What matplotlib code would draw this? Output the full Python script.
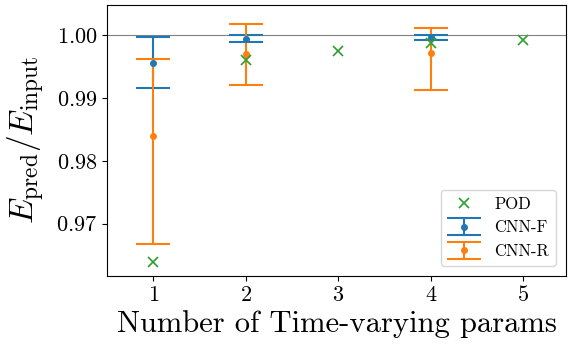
import numpy as np
import matplotlib
matplotlib.use("Agg")
import matplotlib.pyplot as plt

plt.rcParams["font.family"] = "serif"
plt.rcParams["font.serif"] = ["cmr10"]
plt.rcParams["mathtext.fontset"] = "cm"
plt.rcParams["axes.formatter.use_mathtext"] = True

# POD
pod_x = [1, 2, 3, 4, 5]
pod_y = [0.96395, 0.99616, 0.99747, 0.99880, 0.99927]

# CNN-F (mean, lower cap, upper cap)
cnnf_x = [1, 2, 4]
cnnf_y = [0.99564, 0.99937, 0.99968]
cnnf_lo = [0.99169, 0.99900, 0.99932]
cnnf_hi = [0.99975, 1.00010, 1.00006]

# CNN-R
cnnr_x = [1, 2, 4]
cnnr_y = [0.98404, 0.99711, 0.99722]
cnnr_lo = [0.96668, 0.99206, 0.99127]
cnnr_hi = [0.99632, 1.00185, 1.00126]

fig, ax = plt.subplots(figsize=(5.72, 3.45), dpi=100)
fig.subplots_adjust(left=0.1876, right=0.989, bottom=0.2009, top=0.9864)

ax.axhline(1.0, color="gray", lw=0.8)

def err(y, lo, hi):
    y = np.array(y)
    return [y - np.array(lo), np.array(hi) - y]

ax.errorbar(cnnf_x, cnnf_y, yerr=err(cnnf_y, cnnf_lo, cnnf_hi), fmt="o", ms=4,
            color="C0", capsize=12, elinewidth=1.5, capthick=1.5, label="CNN-F")
ax.errorbar(cnnr_x, cnnr_y, yerr=err(cnnr_y, cnnr_lo, cnnr_hi), fmt="o", ms=4,
            color="C1", capsize=12, elinewidth=1.5, capthick=1.5, label="CNN-R")
ax.plot(pod_x, pod_y, "x", color="C2", ms=7.5, mew=1.2, ls="none", label="POD", zorder=3)

ax.set_xlim(0.503, 5.458)
ax.set_ylim(0.9617, 1.0049)
ax.set_xticks([1, 2, 3, 4, 5])
ax.set_yticks([0.97, 0.98, 0.99, 1.00])
ax.tick_params(labelsize=16)

ax.set_xlabel("Number of Time-varying params", fontsize=22, labelpad=3)
ax.set_ylabel(r"$E_\mathrm{pred}/E_\mathrm{input}$", fontsize=24, labelpad=7)

ax.legend(loc="lower right", fontsize=12, borderaxespad=0.6)

plt.savefig("out.png")
